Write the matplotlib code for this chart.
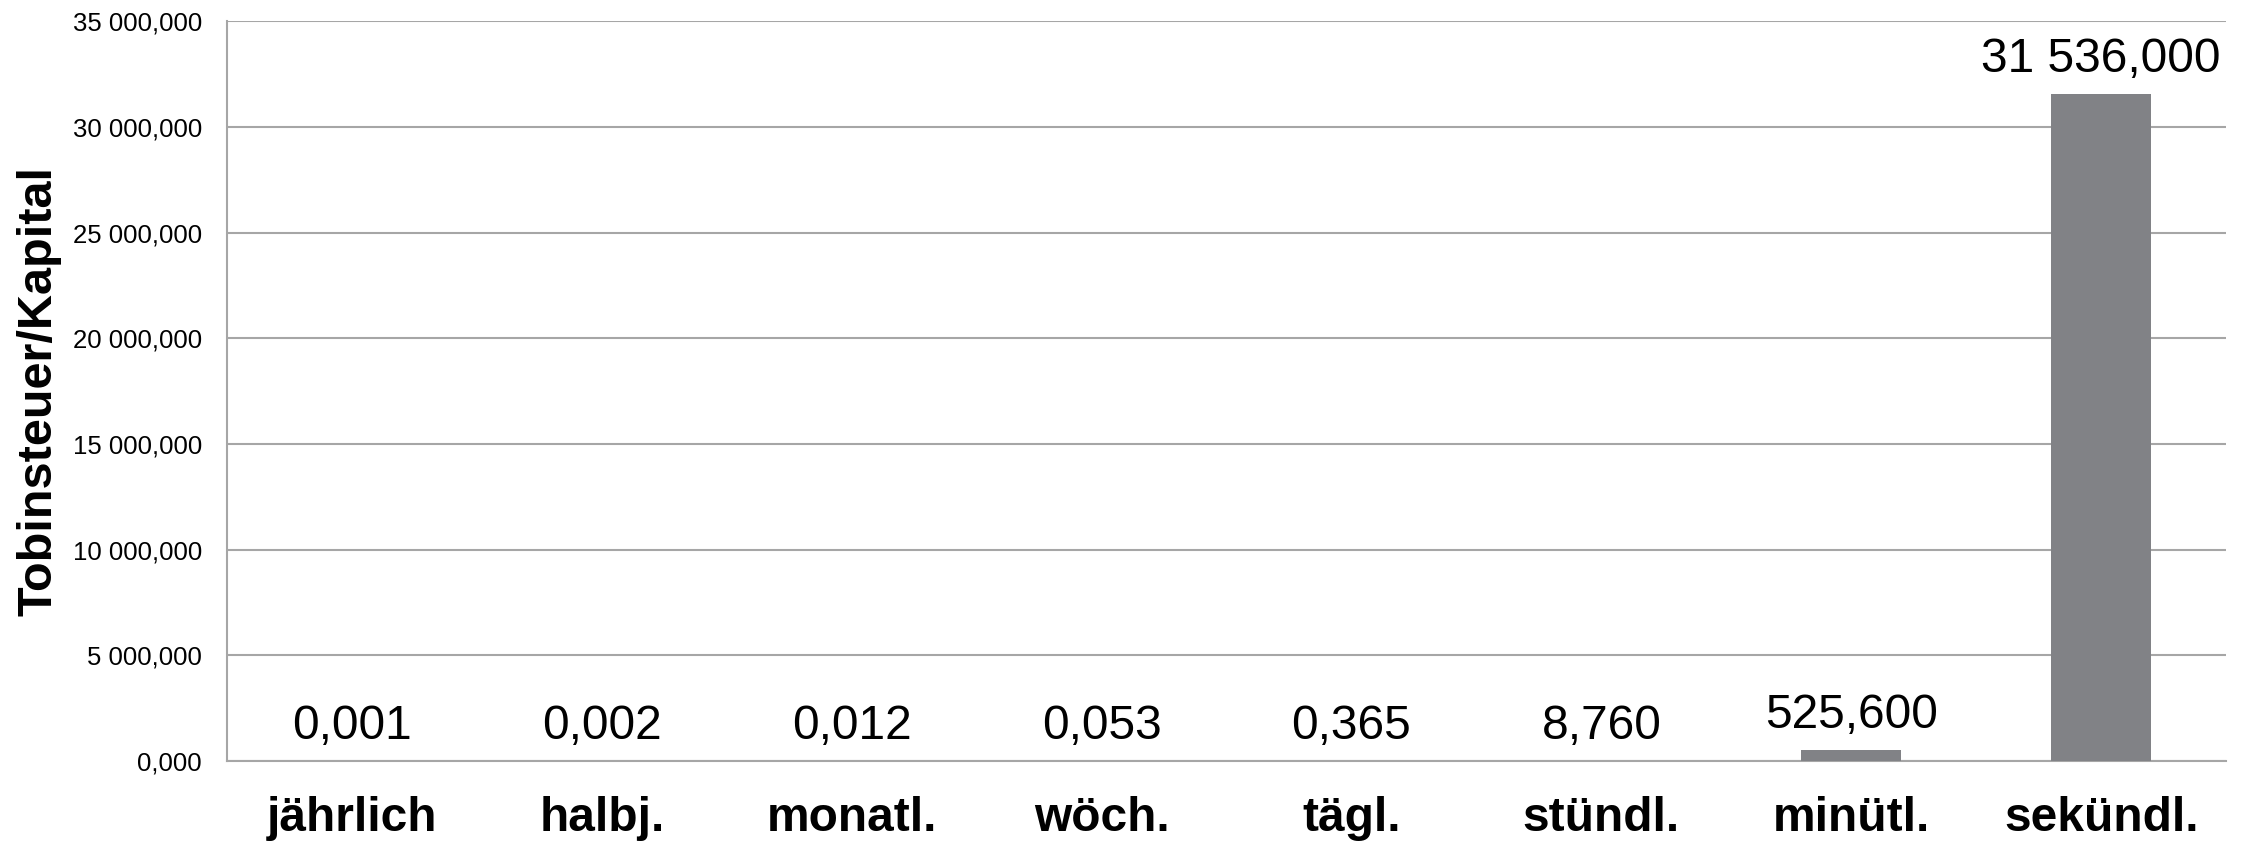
import matplotlib.pyplot as plt
from matplotlib.ticker import FuncFormatter

plt.rcParams['font.family'] = ['Liberation Sans', 'DejaVu Sans']

categories = ["jährlich", "halbj.", "monatl.", "wöch.", "tägl.", "stündl.", "minütl.", "sekündl."]
values = [0.001, 0.002, 0.012, 0.053, 0.365, 8.760, 525.600, 31536.000]
y_ticks = [0, 5000, 10000, 15000, 20000, 25000, 30000, 35000]


def de_fmt(v, pos=None):
    s = f"{v:,.3f}"
    return s.replace(",", " ").replace(".", ",")


fig = plt.figure(figsize=(22.47, 8.43), dpi=100)
ax = fig.add_axes([0.101, 0.097, 0.8897, 0.878])

x = range(len(categories))
ax.bar(x, values, width=0.4, color="#818286", zorder=3)

for i, v in zip(x, values):
    ax.annotate(de_fmt(v), (i, v), xytext=(0, 16), textcoords="offset points",
                ha="center", va="baseline", fontsize=34.5, color="black")

ax.set_xlim(-0.5, len(categories) - 0.5)
ax.set_ylim(0, 35000)
ax.set_yticks(y_ticks)
ax.yaxis.set_major_formatter(FuncFormatter(de_fmt))
ax.set_xticks(list(x))
ax.set_xticklabels(categories, fontsize=34.5, fontweight="bold")
ax.tick_params(axis="y", length=0, pad=18, labelsize=18.5)
ax.tick_params(axis="x", length=0, pad=25)
ax.grid(axis="y", color="#a6a6a6", linewidth=1.5, zorder=0)

for s in ["top", "right"]:
    ax.spines[s].set_visible(False)
ax.spines["left"].set_color("#a6a6a6")
ax.spines["bottom"].set_color("#a6a6a6")
ax.spines["left"].set_linewidth(1.5)
ax.spines["bottom"].set_linewidth(1.5)

ax.set_ylabel("Tobinsteuer/Kapital", fontsize=35, fontweight="bold")
ax.yaxis.set_label_coords(-0.083, 0.5)

fig.savefig("out.png", dpi=100)
